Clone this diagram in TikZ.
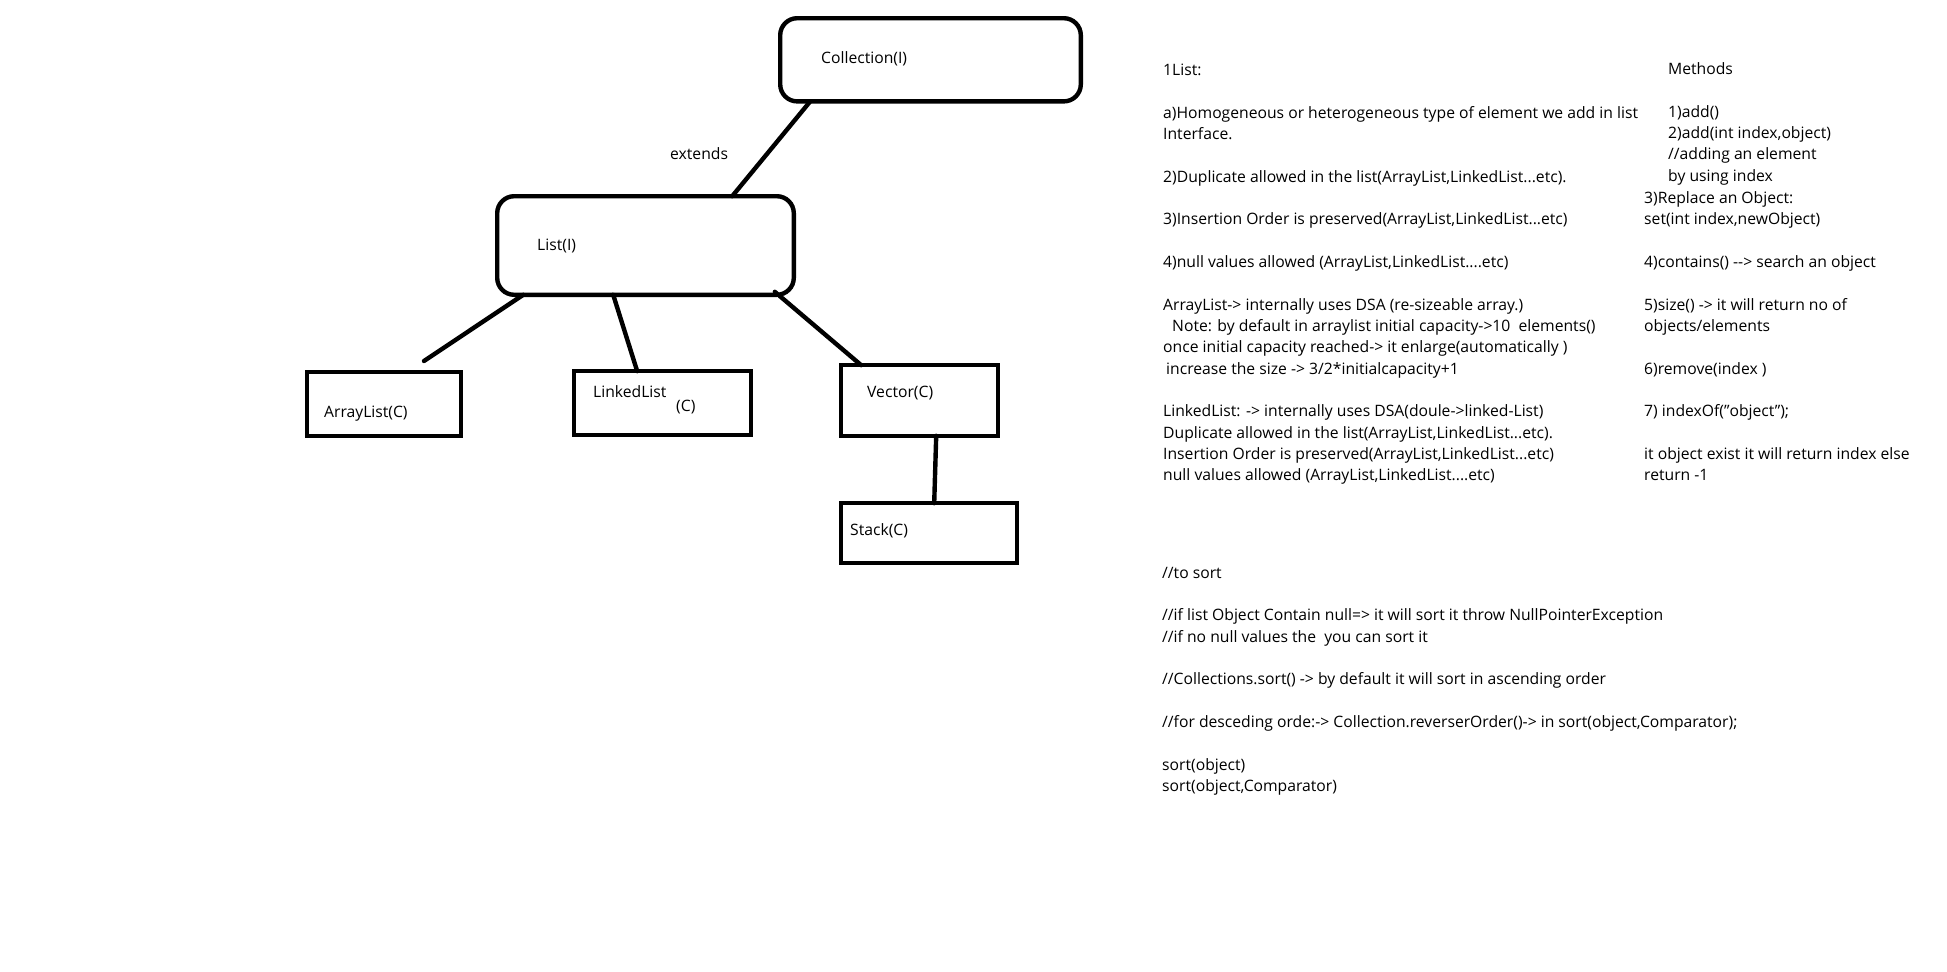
\documentclass[tikz,border=0pt]{standalone}
\usepackage{fontspec}
\setmainfont{Open Sans}
\begin{document}
\begin{tikzpicture}[x=1pt,y=-1pt,
  box/.style={draw, line width=4.4pt, inner sep=0pt, outer sep=0pt},
  rbox/.style={box, rounded corners=17pt},
  lbl/.style={anchor=base west, inner sep=0pt, font=\fontsize{15.7}{19}\selectfont},
  conn/.style={line width=4.4pt, line cap=round}]
\fill[white] (0,0) rectangle (1947,972);
\useasboundingbox (0,0) rectangle (1947,972);

% boxes
\node[rbox, minimum width=300.6pt, minimum height=83.2pt] (coll) at (930.5,59.8) {};
\node[rbox, minimum width=296.6pt, minimum height=98.6pt] (list) at (645.5,245.5) {};
\node[box, minimum width=153.6pt, minimum height=63.6pt] (arr) at (384,404) {};
\node[box, minimum width=176.6pt, minimum height=63.6pt] (lnk) at (662.5,403) {};
\node[box, minimum width=156.6pt, minimum height=70.6pt] (vec) at (919.5,400.5) {};
\node[box, minimum width=175.6pt, minimum height=59.6pt] (stk) at (929,533) {};

% labels in boxes
\node[lbl] (collT) at (821,63) {Collection(I)};
\node[lbl] (ext) at (670,159.5) {extends};
\node[lbl] (listT) at (537,250) {List(I)};
\node[lbl] (arrT) at (324,417) {ArrayList(C)};
\node[lbl] (lnkT) at (593,397) {LinkedList};
\node[lbl] (lnkC) at (676,411) {(C)};
\node[lbl] (vecT) at (867,397.5) {Vector(C)};
\node[lbl] (stkT) at (850,535.5) {Stack(C)};

% connectors
\coordinate (aend) at (424,361);
\draw[conn] ([xshift=30pt]coll.south west) -- ([xshift=235pt]list.north west);
\draw[conn] ([xshift=26pt]list.south west) -- (aend);
\draw[conn] ([xshift=116pt]list.south west) -- ([xshift=63pt]lnk.north west);
\draw[conn] ([xshift=-19pt,yshift=3pt]list.south east) -- ([xshift=20pt]vec.north west);
\draw[conn] ([xshift=95pt]vec.south west) -- ([xshift=93pt]stk.north west);

% left notes
\node[lbl] (t1) at (1163,75.5) {1List:};
\node[lbl] (t2) at (1163,118.2) {a)Homogeneous or heterogeneous type of element we add in list};
\node[lbl] (t3) at (1163,139.5) {Interface.};
\node[lbl] (t4) at (1163,182.2) {2)Duplicate allowed in the list(ArrayList,LinkedList...etc).};
\node[lbl] (t5) at (1163,224.8) {3)Insertion Order is preserved(ArrayList,LinkedList...etc)};
\node[lbl] (t6) at (1163,267.5) {4)null values allowed (ArrayList,LinkedList....etc)};
\node[lbl] (t7) at (1163,310.1) {ArrayList-> internally uses DSA (re-sizeable array.)};
\node[lbl] (t8) at (1172,331.5) {Note: by default in arraylist initial capacity->10\ \ elements()};
\node[lbl] (t9) at (1163,352.8) {once initial capacity reached-> it enlarge(automatically )};
\node[lbl] (t10) at (1166,374.1) {increase the size -> 3/2*initialcapacity+1};
\node[lbl] (t11) at (1163,416.8) {LinkedList: -> internally uses DSA(doule->linked-List)};
\node[lbl] (t12) at (1163,438.1) {Duplicate allowed in the list(ArrayList,LinkedList...etc).};
\node[lbl] (t13) at (1163,459.5) {Insertion Order is preserved(ArrayList,LinkedList...etc)};
\node[lbl] (t14) at (1163,480.8) {null values allowed (ArrayList,LinkedList....etc)};

% methods
\node[lbl] (m1) at (1668,74.5) {Methods};
\node[lbl] (m2) at (1668,117.2) {1)add()};
\node[lbl] (m3) at (1668,138.5) {2)add(int index,object)};
\node[lbl] (m4) at (1668,159.8) {//adding an element};
\node[lbl] (m5) at (1668,181.1) {by using index};
\node[lbl] (m6) at (1644,203.5) {3)Replace an Object:};
\node[lbl] (m7) at (1644,224.8) {set(int index,newObject)};
\node[lbl] (m8) at (1644,267.5) {4)contains() -{}-{}> search an object};
\node[lbl] (m9) at (1644,310.1) {5)size() -> it will return no of};
\node[lbl] (m10) at (1644,331.5) {objects/elements};
\node[lbl] (m11) at (1644,374.1) {6)remove(index )};
\node[lbl] (m12) at (1644,416.8) {7) indexOf("object");};
\node[lbl] (m13) at (1644,459.5) {it object exist it will return index else};
\node[lbl] (m14) at (1644,480.8) {return -1};

% sort notes
\node[lbl] (s1) at (1162,578) {//to sort};
\node[lbl] (s2) at (1162,620.7) {//if list Object Contain null=> it will sort it throw NullPointerException};
\node[lbl] (s3) at (1162,642) {//if no null values the\ \ you can sort it};
\node[lbl] (s4) at (1162,684.7) {//Collections.sort() -> by default it will sort in ascending order};
\node[lbl] (s5) at (1162,727.3) {//for desceding orde:-> Collection.reverserOrder()-> in sort(object,Comparator);};
\node[lbl] (s6) at (1162,770) {sort(object)};
\node[lbl] (s7) at (1162,791.3) {sort(object,Comparator)};
\end{tikzpicture}
\end{document}
